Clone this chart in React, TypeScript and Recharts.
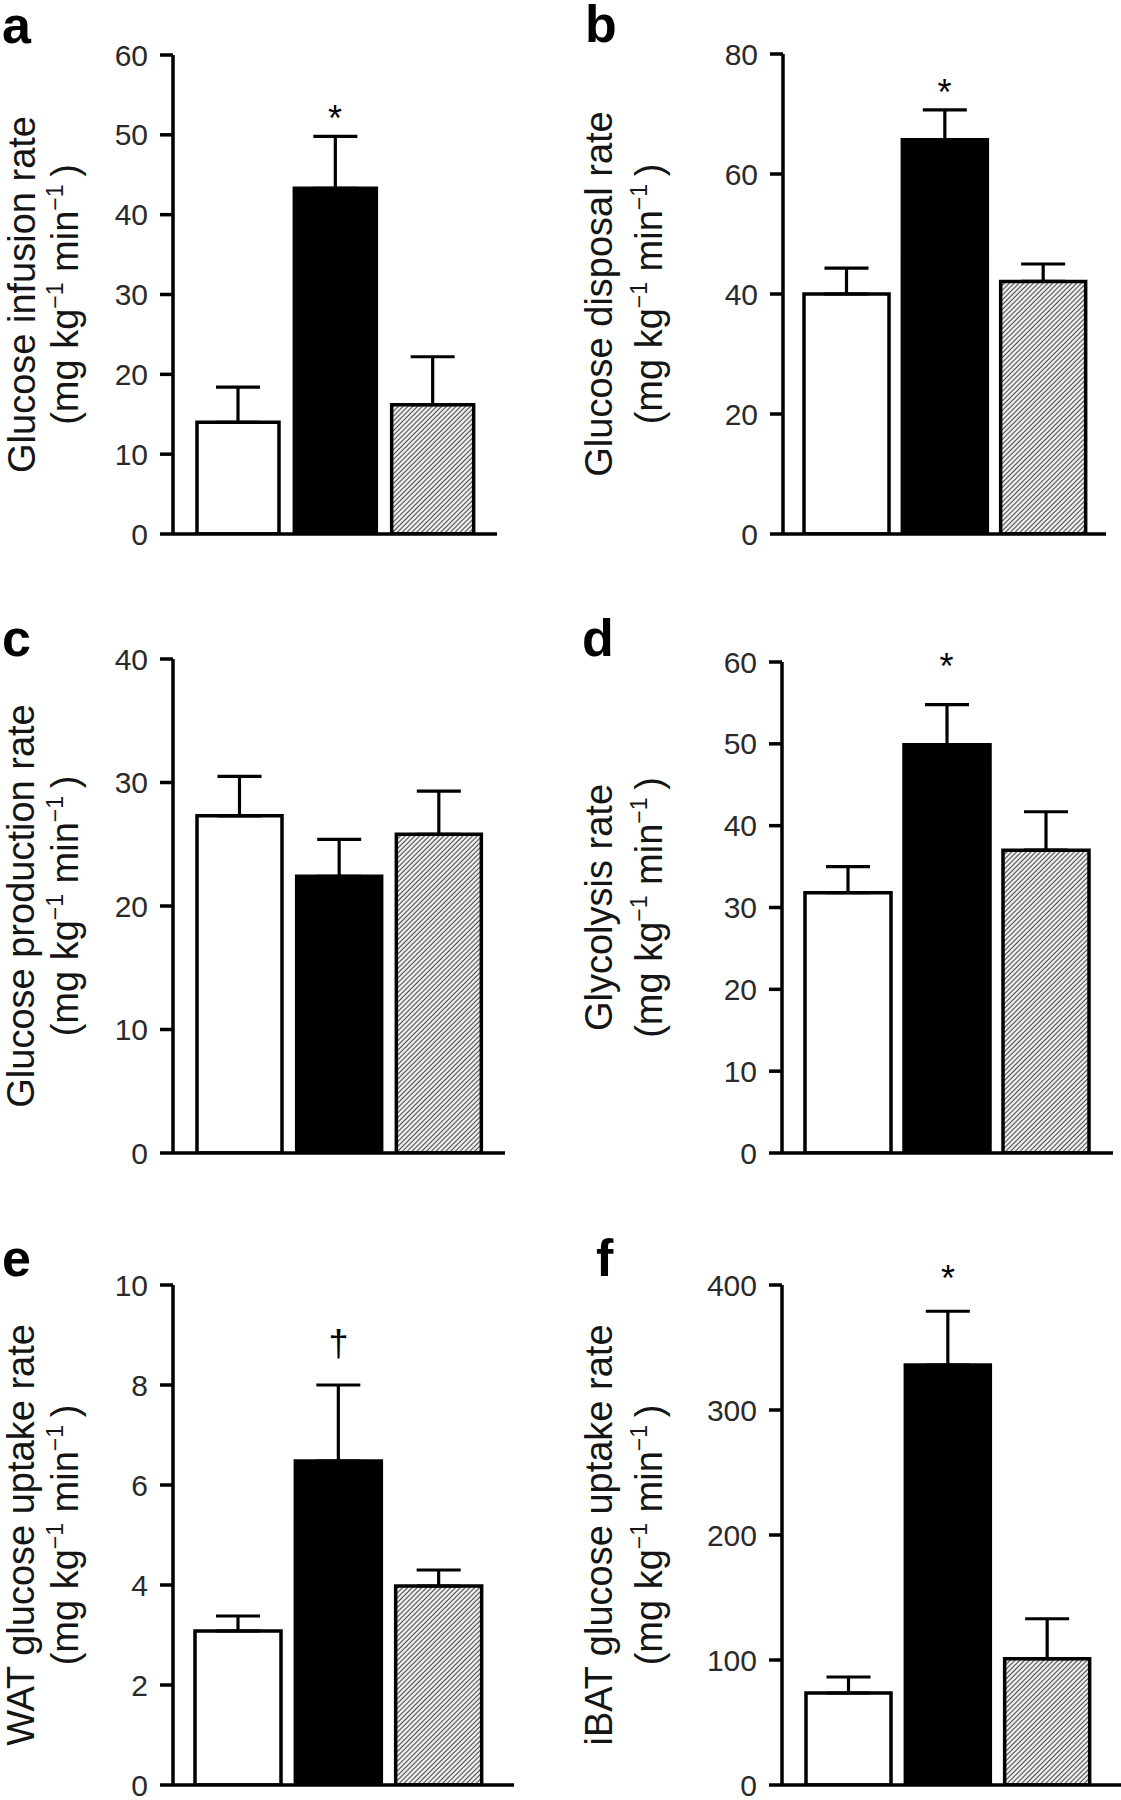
import React from 'react';
import { BarChart, Bar, XAxis, YAxis, ErrorBar, Cell, ReferenceDot } from 'recharts';

// ---------- data ----------
const groups = ['Group 1', 'Group 2', 'Group 3'];

const infusionMean = [14.0, 43.3, 16.2];
const infusionSem = [4.4, 6.5, 6.0];
const infusionTicks = [0, 10, 20, 30, 40, 50, 60];
const infusionMarks = ['', '*', ''];

const disposalMean = [40.0, 65.7, 42.1];
const disposalSem = [4.3, 5.0, 2.9];
const disposalTicks = [0, 20, 40, 60, 80];
const disposalMarks = ['', '*', ''];

const productionMean = [27.3, 22.4, 25.8];
const productionSem = [3.2, 3.0, 3.5];
const productionTicks = [0, 10, 20, 30, 40];
const productionMarks = ['', '', ''];

const glycolysisMean = [31.8, 49.9, 37.0];
const glycolysisSem = [3.2, 4.9, 4.7];
const glycolysisTicks = [0, 10, 20, 30, 40, 50, 60];
const glycolysisMarks = ['', '*', ''];

const watMean = [3.08, 6.48, 3.98];
const watSem = [0.3, 1.52, 0.32];
const watTicks = [0, 2, 4, 6, 8, 10];
const watMarks = ['', '\u2020', ''];

const ibatMean = [73.6, 336, 101];
const ibatSem = [12.8, 43, 32];
const ibatTicks = [0, 100, 200, 300, 400];
const ibatMarks = ['', '*', ''];

const titles = [
  'Glucose infusion rate',
  'Glucose disposal rate',
  'Glucose production rate',
  'Glycolysis rate',
  'WAT glucose uptake rate',
  'iBAT glucose uptake rate',
];
const panelLetters = ['a', 'b', 'c', 'd', 'e', 'f'];

// ---------- layout / style ----------
const FONT = '"Liberation Sans", Arial, Helvetica, sans-serif';
const INK = '#151515';
const TICK_INK = '#2a2a2a';

type Layout = {
  box: [number, number, number, number];
  axisX: number;
  endX: number;
  top: number;
  bottom: number;
  padL: number;
  padR: number;
  barSize: number;
  t1X: number;
  t2X: number;
  letterX: number;
  letterY: number;
  markY: number;
};

const layouts: Layout[] = [
  { box: [0, 0, 560, 600], axisX: 173, endX: 497, top: 55, bottom: 534, padL: 16, padR: 16, barSize: 82, t1X: 35, t2X: 78, letterX: 2, letterY: 43, markY: 53 },
  { box: [560, 0, 561, 600], axisX: 783, endX: 1106, top: 54, bottom: 534, padL: 14, padR: 14, barSize: 85, t1X: 612, t2X: 662, letterX: 585, letterY: 42, markY: 75 },
  { box: [0, 600, 560, 600], axisX: 173, endX: 505, top: 659, bottom: 1153, padL: 17, padR: 16, barSize: 85, t1X: 34, t2X: 78, letterX: 2, letterY: 656, markY: 0 },
  { box: [560, 600, 561, 600], axisX: 782, endX: 1113, top: 662, bottom: 1153, padL: 16, padR: 18, barSize: 86, t1X: 612, t2X: 662, letterX: 582, letterY: 656, markY: 60.4 },
  { box: [0, 1200, 560, 600], axisX: 173, endX: 514, top: 1285, bottom: 1785, padL: 15, padR: 25, barSize: 86, t1X: 34, t2X: 78, letterX: 2, letterY: 1276, markY: 8.8 },
  { box: [560, 1200, 561, 600], axisX: 782, endX: 1121, top: 1285, bottom: 1785, padL: 17, padR: 24, barSize: 85, t1X: 612, t2X: 662, letterX: 596, letterY: 1276, markY: 412 },
];

const panelData = [
  { mean: infusionMean, sem: infusionSem, ticks: infusionTicks, marks: infusionMarks },
  { mean: disposalMean, sem: disposalSem, ticks: disposalTicks, marks: disposalMarks },
  { mean: productionMean, sem: productionSem, ticks: productionTicks, marks: productionMarks },
  { mean: glycolysisMean, sem: glycolysisSem, ticks: glycolysisTicks, marks: glycolysisMarks },
  { mean: watMean, sem: watSem, ticks: watTicks, marks: watMarks },
  { mean: ibatMean, sem: ibatSem, ticks: ibatTicks, marks: ibatMarks },
];

const TITLE_SIZE = 38;
const SUP_SIZE = 23;
const SUP_SHIFT = 15;

function AxisTitle(props: any) {
  const { t1X, t2X, cy, title, letter, letterX, letterY } = props;
  return (
    <g>
      <text x={letterX} y={letterY} fontFamily={FONT} fontWeight="bold" fontSize={52} fill="#000">
        {letter}
      </text>
      <text
        x={t1X}
        y={cy}
        transform={`rotate(-90 ${t1X} ${cy})`}
        textAnchor="middle"
        fontFamily={FONT}
        fontSize={TITLE_SIZE}
        fill={INK}
      >
        {title}
      </text>
      <text
        x={t2X}
        y={cy}
        transform={`rotate(-90 ${t2X} ${cy})`}
        textAnchor="middle"
        fontFamily={FONT}
        fontSize={TITLE_SIZE}
        fill={INK}
      >
        <tspan>(mg kg</tspan>
        <tspan fontSize={SUP_SIZE} dy={-SUP_SHIFT}>{'\u22121'}</tspan>
        <tspan dy={SUP_SHIFT}>{' min'}</tspan>
        <tspan fontSize={SUP_SIZE} dy={-SUP_SHIFT}>{'\u22121'}</tspan>
        <tspan dy={SUP_SHIFT}>{'\u2009)'}</tspan>
      </text>
    </g>
  );
}

function MarkShape(props: any) {
  const { cx, cy, mark } = props;
  if (!mark) return null;
  const isDagger = mark === '\u2020';
  const fs = 36;
  const baseline = isDagger ? cy + 0.3 * fs : cy + 0.57 * fs;
  return (
    <text x={cx} y={baseline} textAnchor="middle" fontFamily={FONT} fontSize={fs} fill="#000">
      {mark}
    </text>
  );
}

function Panel({ idx }: { idx: number }) {
  const L = layouts[idx];
  const P = panelData[idx];
  const [bx, by, bw, bh] = L.box;
  const data = groups.map((g, i) => ({ group: g, mean: P.mean[i], err: [0, P.sem[i]] }));
  const yAxisWidth = 100;
  const margin = {
    top: L.top - by,
    bottom: by + bh - L.bottom - 1,
    left: L.axisX - bx - yAxisWidth,
    right: bx + bw - L.endX,
  };
  const patternId = `hatch-${idx}`;
  const fills = ['#ffffff', '#000000', `url(#${patternId})`];
  const maxTick = P.ticks[P.ticks.length - 1];
  const cy = (L.top + L.bottom) / 2 - by;
  return (
    <div style={{ position: 'absolute', left: bx, top: by, width: bw, height: bh }}>
      <BarChart width={bw} height={bh} data={data} margin={margin} barSize={L.barSize}>
        <defs>
          <pattern id={patternId} patternUnits="userSpaceOnUse" width={3.4} height={3.4} patternTransform="rotate(45)">
            <rect width={3.4} height={3.4} fill="#ffffff" />
            <line x1={1.2} y1={0} x2={1.2} y2={3.4} stroke="#505050" strokeWidth={1.3} />
          </pattern>
        </defs>
        <XAxis
          dataKey="group"
          height={1}
          tick={false}
          tickLine={false}
          axisLine={{ stroke: '#000', strokeWidth: 3.5 }}
          padding={{ left: L.padL, right: L.padR }}
        />
        <YAxis
          width={yAxisWidth}
          domain={[0, maxTick]}
          ticks={P.ticks}
          interval={0}
          tickSize={13}
          tickMargin={12}
          tick={{ fontSize: 30, fill: TICK_INK, fontFamily: FONT }}
          axisLine={{ stroke: '#000', strokeWidth: 3.5 }}
          tickLine={{ stroke: '#000', strokeWidth: 3.5 }}
          allowDataOverflow
          label={
            <AxisTitle
              t1X={L.t1X - bx}
              t2X={L.t2X - bx}
              cy={cy}
              title={titles[idx]}
              letter={panelLetters[idx]}
              letterX={L.letterX - bx}
              letterY={L.letterY - by}
            />
          }
        />
        <Bar dataKey="mean" stroke="#000" strokeWidth={3.5} isAnimationActive={false}>
          {data.map((d, i) => (
            <Cell key={d.group} fill={fills[i]} />
          ))}
          <ErrorBar dataKey="err" width={22} strokeWidth={3.2} stroke="#000" direction="y" isAnimationActive={false} />
        </Bar>
        {P.marks.map((m, i) =>
          m ? (
            <ReferenceDot
              key={`mark-${i}`}
              x={groups[i]}
              y={L.markY}
              r={0}
              ifOverflow="visible"
              shape={(p: any) => <MarkShape {...p} mark={m} />}
            />
          ) : null
        )}
      </BarChart>
    </div>
  );
}

export default function App() {
  return (
    <div style={{ position: 'absolute', left: 0, top: 0, width: 1121, height: 1800, background: '#fff' }}>
      {layouts.map((_, i) => (
        <Panel key={i} idx={i} />
      ))}
    </div>
  );
}
